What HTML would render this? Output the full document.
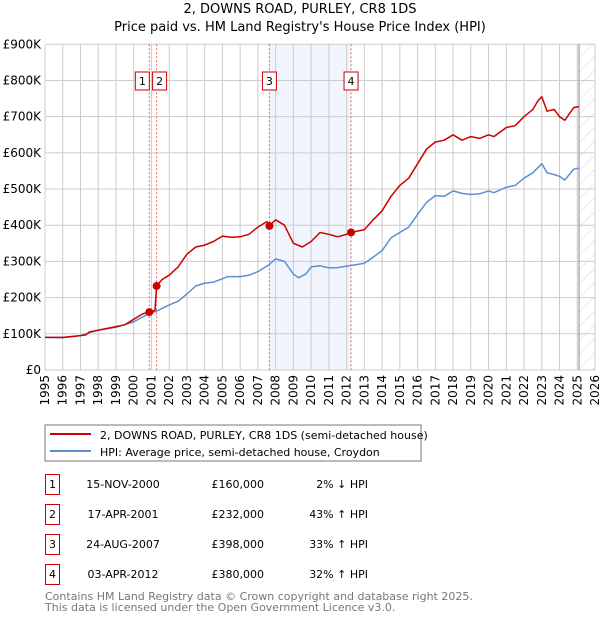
<!DOCTYPE html>
<html><head><meta charset="utf-8"><style>
body{margin:0;background:#fff;}
svg{display:block;font-family:"DejaVu Sans","Liberation Sans",sans-serif;}
</style></head><body>
<svg id="c" width="600" height="620" viewBox="0 0 600 620" xmlns="http://www.w3.org/2000/svg">
<defs><pattern id="hatch" width="10" height="10" patternUnits="userSpaceOnUse" patternTransform="rotate(45)"><line x1="0" y1="0" x2="0" y2="10" stroke="#ccc" stroke-width="0.8"/></pattern></defs>
<text x="300" y="13" text-anchor="middle" font-size="13">2, DOWNS ROAD, PURLEY, CR8 1DS</text>
<text x="300" y="31" text-anchor="middle" font-size="13">Price paid vs. HM Land Registry's House Price Index (HPI)</text>
<g id="plot"></g>
<rect x="45" y="425" width="376" height="36" fill="#fff" stroke="#777"/>
<line x1="50" y1="434" x2="91" y2="434" stroke="#cc0000" stroke-width="2"/>
<text x="100" y="439" font-size="11">2, DOWNS ROAD, PURLEY, CR8 1DS (semi-detached house)</text>
<line x1="50" y1="451" x2="91" y2="451" stroke="#5b8fd4" stroke-width="2"/>
<text x="100" y="456" font-size="11">HPI: Average price, semi-detached house, Croydon</text>
<g id="tbl" font-size="11"></g>
<text x="45" y="600" font-size="11" fill="#777">Contains HM Land Registry data © Crown copyright and database right 2025.</text>
<text x="45" y="611" font-size="11" fill="#777">This data is licensed under the Open Government Licence v3.0.</text>
</svg>
<script>
const hpiYears=[1995,1996,1997,1997.5,1998,1999,2000,2000.9,2001.3,2002,2002.5,2003,2003.5,2004,2004.5,2005,2005.3,2006,2006.5,2007,2007.6,2008,2008.5,2009,2009.3,2009.7,2010,2010.5,2011,2011.5,2012,2012.5,2013,2013.5,2014,2014.5,2015,2015.5,2016,2016.5,2017,2017.5,2018,2018.5,2019,2019.5,2020,2020.3,2021,2021.5,2022,2022.5,2023,2023.3,2023.7,2024,2024.3,2024.8,2025.1];
const hpiValues=[90,89,95,103,110,118,133,157,163,180,190,210,232,240,243,252,258,258,262,272,290,307,300,265,255,265,285,288,282,283,287,291,295,312,330,365,380,395,430,463,482,480,495,488,485,487,495,490,505,510,530,545,570,545,540,535,525,555,558];
const propYears=[1995,1996,1997,1997.3,1997.5,1998,1998.5,1999,1999.5,2000,2000.5,2000.88,2001.2,2001.29,2001.6,2002,2002.5,2003,2003.5,2004,2004.5,2005,2005.5,2006,2006.5,2007,2007.5,2007.65,2008,2008.5,2009,2009.5,2010,2010.5,2011,2011.5,2012,2012.25,2013,2013.5,2014,2014.5,2015,2015.5,2016,2016.5,2017,2017.5,2018,2018.5,2019,2019.5,2020,2020.3,2021,2021.5,2022,2022.5,2022.8,2023,2023.3,2023.7,2024,2024.3,2024.8,2025.1];
const propValues=[90,90,95,97,105,110,115,120,125,140,155,160,165,232,250,262,285,320,340,345,355,370,367,368,375,395,410,398,415,400,350,340,355,380,375,368,375,380,388,415,440,480,510,530,570,610,630,635,650,635,645,640,650,645,670,675,700,720,745,755,715,720,700,690,725,728];
const saleYears=[2000.88,2001.29,2007.65,2012.25];
const saleValues=[160,232,398,380];
const saleLabels=["1","2","3","4"];
const saleDates=["15-NOV-2000","17-APR-2001","24-AUG-2007","03-APR-2012"];
const salePrices=["£160,000","£232,000","£398,000","£380,000"];
const saleHpi=["2% ↓ HPI","43% ↑ HPI","33% ↑ HPI","32% ↑ HPI"];
const yTicks=[0,100,200,300,400,500,600,700,800,900];
const yTickLabels=["£0","£100K","£200K","£300K","£400K","£500K","£600K","£700K","£800K","£900K"];
const xTicks=[1995,1996,1997,1998,1999,2000,2001,2002,2003,2004,2005,2006,2007,2008,2009,2010,2011,2012,2013,2014,2015,2016,2017,2018,2019,2020,2021,2022,2023,2024,2025,2026];

const L=45,R=595,T=44.3,B=370;
const xs=y=>L+(y-1995)/(2026-1995)*(R-L);
const ys=v=>B-v/900*(B-T);
const NS="http://www.w3.org/2000/svg";
const plot=document.getElementById('plot');
function mk(tag,attrs,parent){const e=document.createElementNS(NS,tag);for(const k in attrs)e.setAttribute(k,attrs[k]);(parent||plot).appendChild(e);return e;}

let e=mk('rect',{x:xs(2007.65),y:T,width:xs(2012.25)-xs(2007.65),height:B-T,fill:'#f2f5fd'});


e=mk('rect',{x:xs(2025.1),y:T,width:R-xs(2025.1),height:B-T,fill:'url(#hatch)'});



yTicks.forEach((t,i)=>{
  let g=mk('line',{x1:L,x2:R,y1:ys(t),y2:ys(t),stroke:'#ccc','stroke-width':1});
  
  
  let tx=mk('text',{x:L-4,y:ys(t)+4,'text-anchor':'end','font-size':12});
  tx.textContent=yTickLabels[i];
  
  
});
xTicks.forEach(t=>{
  let g=mk('line',{x1:xs(t),x2:xs(t),y1:T,y2:B,stroke:'#ccc','stroke-width':1});
  
  
  let tx=mk('text',{x:0,y:0,'text-anchor':'end','font-size':12,transform:`translate(${xs(t)+4},${B+5}) rotate(-90)`});
  tx.textContent=t;
  
  
});
e=mk('line',{x1:xs(2025.1),x2:xs(2025.1),y1:T,y2:B,stroke:'#888','stroke-width':1});



saleYears.forEach((y,i)=>{
  let l=mk('line',{x1:xs(y),x2:xs(y),y1:T,y2:B,stroke:'#f06060','stroke-width':1,'stroke-dasharray':'2,2'});
  
  
});

function path(xa,va,col,name){
  let d=xa.map((y,i)=>(i?'L':'M')+xs(y).toFixed(1)+','+ys(va[i]).toFixed(1)).join('');
  let p=mk('path',{d:d,fill:'none',stroke:col,'stroke-width':1.5,'stroke-linejoin':'round'});
  
  
}
path(hpiYears,hpiValues,'#5b8fd4','hpi-line');
path(propYears,propValues,'#cc0000','property-line');

saleYears.forEach((y,i)=>{
  let c=mk('circle',{cx:xs(y),cy:ys(saleValues[i]),r:4,fill:'#cc0000'});
  
  
  let off=i===0?-4:(i===1?4:0);
  let bx=xs(y)-7+off-(i===0?3:0)+(i===1?-1:0);
  let r=mk('rect',{x:bx,y:72,width:14,height:18,fill:'#fff',stroke:'#cc0000','stroke-width':1});
  
  
  let t=mk('text',{x:bx+7,y:85,'text-anchor':'middle','font-size':11});
  t.textContent=saleLabels[i];
  
  
});

const tbl=document.getElementById('tbl');
saleLabels.forEach((lab,i)=>{
  const cy=483+i*30;
  let r=mk('rect',{x:45.5,y:cy-8.5,width:14,height:20,fill:'none',stroke:'#cc0000'},tbl);
  
  
  let t=mk('text',{x:52.5,y:cy+5,'text-anchor':'middle'},tbl);t.textContent=lab;
  
  
  t=mk('text',{x:123,y:cy+5,'text-anchor':'middle'},tbl);t.textContent=saleDates[i];
  
  
  t=mk('text',{x:264,y:cy+5,'text-anchor':'end'},tbl);t.textContent=salePrices[i];
  
  
  t=mk('text',{x:368,y:cy+5,'text-anchor':'end'},tbl);t.textContent=saleHpi[i];
  
  
});
</script>
</body></html>
